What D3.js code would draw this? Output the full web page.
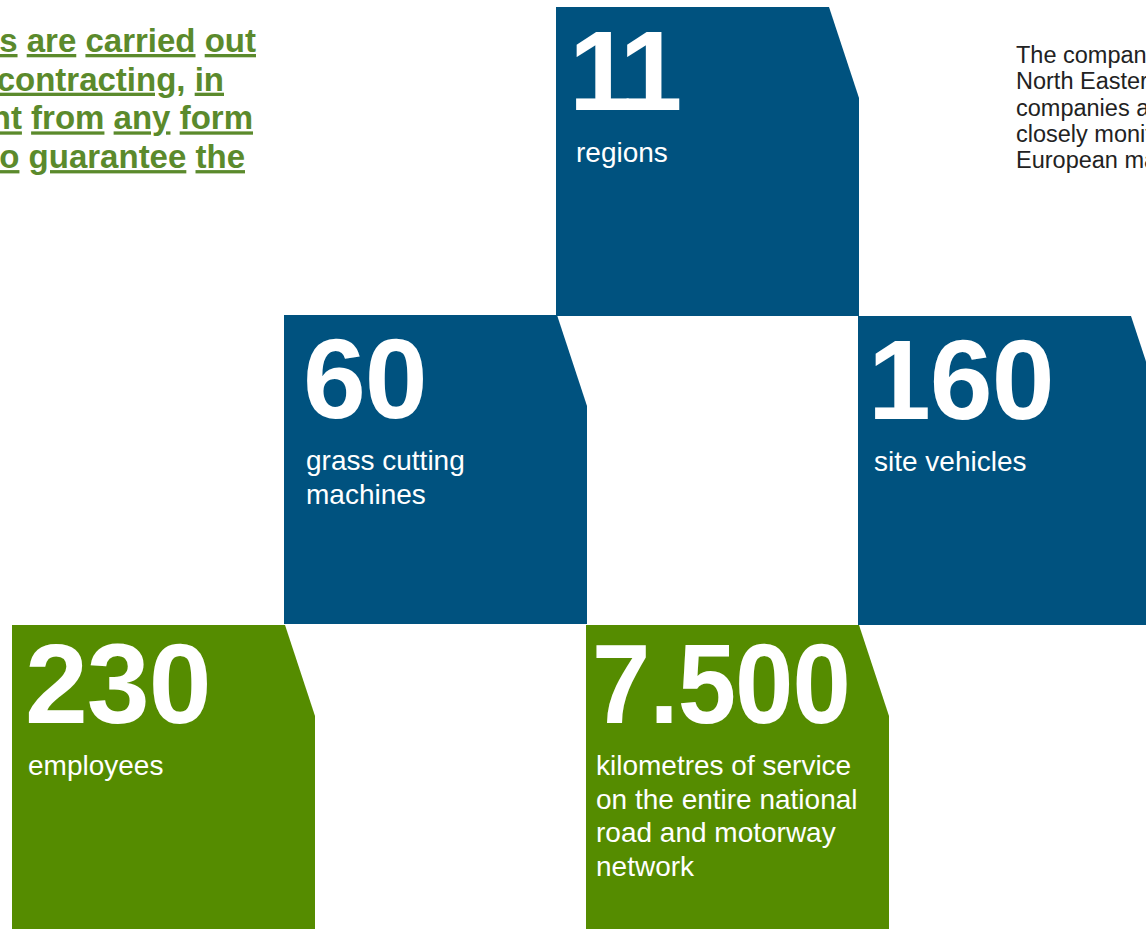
<!DOCTYPE html>
<html>
<head>
<meta charset="utf-8">
<script src="https://cdn.jsdelivr.net/npm/d3@7"></script>
<style>
  html, body { margin: 0; padding: 0; background: #ffffff; overflow: hidden; }
  svg { display: block; }
</style>
</head>
<body>
<script>
// ---------- data ----------
const figures = ["11", "60", "160", "230", "7.500"];
const figureLabels = [
  ["regions"],
  ["grass cutting", "machines"],
  ["site vehicles"],
  ["employees"],
  ["kilometres of service", "on the entire national", "road and motorway", "network"]
];
const figureGroups = ["infrastructure", "infrastructure", "infrastructure", "people", "people"];

const introLines = [
  ["The", "activities", "are", "carried", "out"],
  ["directly,", "without", "sub-contracting,", "in"],
  ["a", "way", "independent", "from", "any", "form"],
  ["of", "subcontracting,", "so", "to", "guarantee", "the"]
];
const companyLines = [
  "The company operates in",
  "North Eastern Italy and its",
  "companies are active and",
  "closely monitor the",
  "European markets"
];

// ---------- layout (positions / styles only) ----------
const W = 1146, H = 929;
const boxLayout = [
  { x: 556, y: 7,   pad: 20, numPad: 13, track: -6, fit: null },
  { x: 284, y: 315, pad: 22, numPad: 19, track: -1, fit: null },
  { x: 858, y: 316, pad: 16, numPad: 10, track: -1, fit: null },
  { x: 12,  y: 625, pad: 16, numPad: 13, track: -1, fit: null },
  { x: 586, y: 625, pad: 10, numPad: 6,  track: -1, fit: 258 }
];
const boxW = 303, boxH = 309, cutX = 30, cutY = 91;
const color = d3.scaleOrdinal()
  .domain(["infrastructure", "people"])
  .range(["#00527f", "#558c00"]);

const FONT = "'Liberation Sans', Arial, Helvetica, sans-serif";

const svg = d3.select("body").append("svg")
  .attr("width", W).attr("height", H)
  .attr("viewBox", [0, 0, W, H]);

// ---------- boxes ----------
const line = d3.line();
const boxes = svg.append("g").selectAll("g")
  .data(figures.map((v, i) => ({ value: v, label: figureLabels[i], group: figureGroups[i], L: boxLayout[i] })))
  .join("g")
  .attr("transform", d => `translate(${d.L.x},${d.L.y})`);

boxes.append("path")
  .attr("d", () => line([[0, 0], [boxW - cutX, 0], [boxW, cutY], [boxW, boxH], [0, boxH]]) + "Z")
  .attr("fill", d => color(d.group));

boxes.append("text")
  .attr("x", d => d.L.numPad)
  .attr("y", d => d.L.y > 600 ? 98 : 103)
  .attr("fill", "#ffffff")
  .attr("font-family", FONT)
  .attr("font-weight", "bold")
  .attr("font-size", 113)
  .attr("letter-spacing", d => d.L.track)
  .each(function (d) {
    if (d.L.fit) {
      d3.select(this).attr("textLength", d.L.fit).attr("lengthAdjust", "spacingAndGlyphs");
    }
  })
  .text(d => d.value);

boxes.append("text")
  .attr("fill", "#ffffff")
  .attr("font-family", FONT)
  .attr("font-size", 28)
  .selectAll("tspan")
  .data(d => d.label.map((t, j) => ({ t, j, d })))
  .join("tspan")
  .attr("x", e => e.d.L.pad)
  .attr("y", e => (e.d.L.y > 600 ? 150 : 155) + e.j * 33.7)
  .text(e => e.t);

// ---------- intro paragraph (top-left, clipped) ----------
const introEnds = [256, 224, 253, 245];
const intro = svg.append("g")
  .attr("font-family", FONT)
  .attr("font-weight", "bold")
  .attr("font-size", 33)
  .attr("fill", "#5b8a2c");

introLines.forEach((words, i) => {
  const t = intro.append("text")
    .attr("x", introEnds[i])
    .attr("y", 52 + i * 38.7)
    .attr("text-anchor", "end")
    .style("white-space", "pre");
  words.forEach((w, k) => {
    if (k > 0) t.append("tspan").text(" ");
    t.append("tspan").style("text-decoration", "underline").text(w);
  });
});

// ---------- company paragraph (top-right, clipped) ----------
svg.append("g")
  .attr("font-family", FONT)
  .attr("font-size", 23.5)
  .attr("fill", "#222222")
  .selectAll("text")
  .data(companyLines)
  .join("text")
  .attr("x", 1016)
  .attr("y", (d, i) => 63 + i * 26.3)
  .text(d => d);
</script>
</body>
</html>
